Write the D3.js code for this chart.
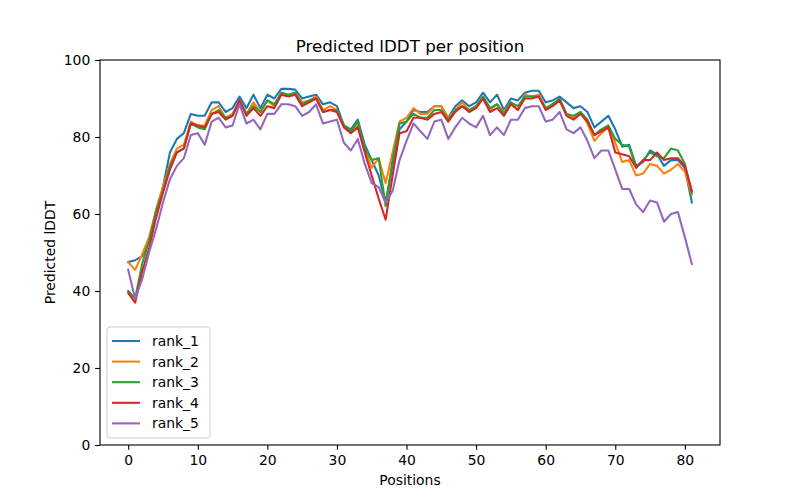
<!DOCTYPE html>
<html><head><meta charset="utf-8">
<script src="https://cdn.jsdelivr.net/npm/d3@7"></script>
<style>body{margin:0;background:#fff}svg{font-family:"DejaVu Sans",sans-serif}</style>
</head><body><svg id="c" width="800" height="500"></svg>
<script>
const seriesNames = ["rank_1","rank_2","rank_3","rank_4","rank_5"];
const colors = ["#1f77b4","#ff7f0e","#2ca02c","#d62728","#9467bd"];
const xTicks = [0,10,20,30,40,50,60,70,80];
const yTicks = [0,20,40,60,80,100];
const rank_1 = [47.5,48,49,53,61,67,76,79.5,81,86,85.5,85.5,89,89,86.5,87.5,90.5,87.5,91,87.5,91,90,92.5,92.5,92.3,90,90.5,91,88.5,89,88,83,82,84.5,78,74,70,63,73,82,84,87,86.5,86.5,88,88,85,88,89.5,88,89,91.5,89,91,87,90,89.5,91.5,92,92,89,89.5,90.5,89,87.5,88,86.5,82.5,84,85.5,82,77.5,78,72.5,73.5,76.5,75.5,72.5,74,74,72,63];
const rank_2 = [47.5,45.5,49.5,54,61,67,73,77,78,84,83,83,87,88,85,86,89.5,86,89,86.5,89.5,88,91.5,91,91.5,89,89.5,90.5,87,88,87,83,81.5,83,77,72,74.5,68,76,84,85,87.5,86,86,88,88,85,87,89,87,88,90,87,88.5,86.5,89,87,91,90.5,91,87.5,88.5,89.5,86,85,86.5,83.5,79,81,82.5,78.5,73.5,74,70,70.5,73,72.5,70.5,71.5,73,71,65];
const rank_3 = [40,38,47,53,60.5,66,72.5,76,77,83.5,82.5,82,86,87,85,85.5,89.5,86,88,86.5,89.5,88.5,91.5,91,91.5,88.5,89.5,90,86.5,87,87,83,81.5,84,77,74,74.5,62,74,83.5,84,86,85,85,87,87,84.5,87,88,87,88,90.5,87.5,88.5,86,89,88,90.5,90.5,90.5,87.5,88.5,90,86,85.5,86.5,84.5,80.5,82,83,79.5,78,77.5,72,74,76,75,74.5,77,76.5,73,65.5];
const rank_4 = [39.5,37,45,51,59,65.5,71.5,76,77,83.5,83,82.5,86,86.5,84.5,85.5,89.5,85.5,87.5,85.5,88,87.5,91,90.5,91,88,89,90,86.5,87,86.5,82.5,81,82.5,76,70,64,58.5,70,81,81.5,85,85,84.5,86,86.5,84,86.5,88,86.5,87.5,90,86.5,87.5,85.5,88.5,87,90,90,90.5,87,88,89.5,85.5,84.5,86,84,80.5,81.5,82.5,76,75.5,75,72,74,74,76,74,74.5,74.5,72.5,66];
const rank_5 = [45.5,38,43,50,56,63,69,72.5,74.5,80.5,81,78,84,85,82.5,83,88.5,83.5,84.5,82,86,86,88.5,88.5,88,85.5,86.5,88.5,83.5,84,84.5,78.5,76.5,79.5,73,68,67,63,66,74,79,83.5,81.5,79.5,84,84.5,79.5,82.5,85,83.5,82.5,85.5,80.5,82.5,80.5,84.5,84.5,87.5,88,88,84,84.5,86.5,82,81,82.5,79,74.5,76.5,76.5,71.5,66.5,66.5,62.5,60.5,63.5,63,58,60,60.5,54,47];
const allSeries = [rank_1,rank_2,rank_3,rank_4,rank_5];

const svg = d3.select("#c");
const L=100,R=720,T=60,B=445;
const n = rank_1.length;
const pad = (n-1)*0.05;
const x = d3.scaleLinear().domain([-pad, n-1+pad]).range([L,R]);
const y = d3.scaleLinear().domain([0,100]).range([B,T]);

const line = d3.line().x((d,i)=>x(i)).y(d=>y(d));
allSeries.forEach((s,k)=>{
  svg.append("path").datum(s).attr("d",line).attr("fill","none")
    .attr("stroke",colors[k]).attr("stroke-width",2.08).attr("stroke-linejoin","round").attr("stroke-linecap","square");
});

const xa = svg.append("g").attr("transform",`translate(0,${B})`)
  .call(d3.axisBottom(x).tickValues(xTicks).tickSize(4.86).tickPadding(4.9).tickFormat(d3.format("d")));
const ya = svg.append("g").attr("transform",`translate(${L},0)`)
  .call(d3.axisLeft(y).tickValues(yTicks).tickSize(4.86).tickPadding(4.9).tickFormat(d3.format("d")));
[xa,ya].forEach(a=>{
  a.select(".domain").remove();
  a.selectAll("line").attr("stroke","#000").attr("stroke-width",1.1);
  a.selectAll("text").attr("font-size","13.9px").attr("fill","#000").attr("font-family","DejaVu Sans");
});
svg.append("rect").attr("x",L).attr("y",T).attr("width",R-L).attr("height",B-T)
  .attr("fill","none").attr("stroke","#000").attr("stroke-width",1.1);

svg.append("text").attr("x",(L+R)/2).attr("y",T-8).attr("text-anchor","middle")
  .attr("font-size","16.7px").text("Predicted lDDT per position");
svg.append("text").attr("x",(L+R)/2).attr("y",485).attr("text-anchor","middle")
  .attr("font-size","13.9px").text("Positions");
svg.append("text").attr("transform",`translate(55,${(T+B)/2}) rotate(-90)`).attr("text-anchor","middle")
  .attr("font-size","13.9px").text("Predicted lDDT");

const lg = svg.append("g");
lg.append("rect").attr("x",107).attr("y",327).attr("width",103).attr("height",111).attr("rx",3)
  .attr("fill","#fff").attr("fill-opacity",0.8).attr("stroke","#cccccc").attr("stroke-width",1);
seriesNames.forEach((nm,k)=>{
  const yy = 341 + k*20.6;
  lg.append("line").attr("x1",112).attr("x2",140).attr("y1",yy).attr("y2",yy)
    .attr("stroke",colors[k]).attr("stroke-width",2.08);
  lg.append("text").attr("x",152).attr("y",yy+5).attr("font-size","13.9px").text(nm);
});
</script></body></html>
